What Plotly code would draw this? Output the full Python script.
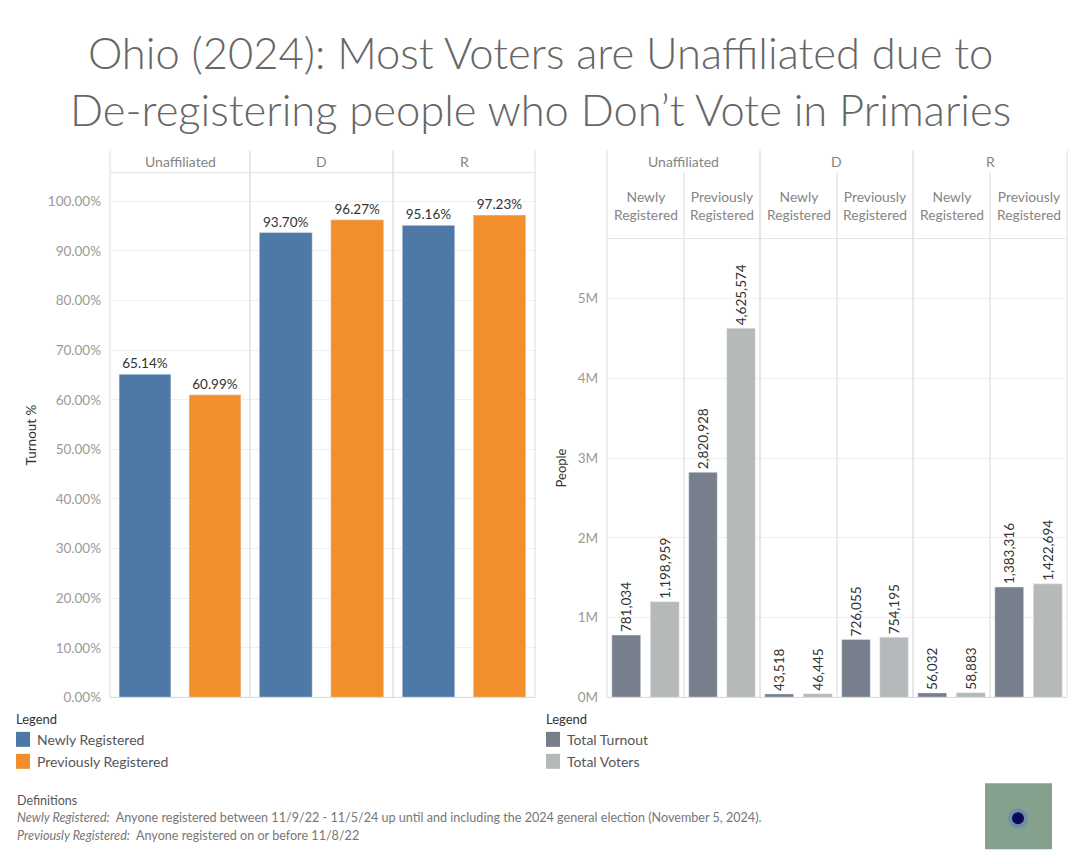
import plotly.graph_objects as go

# ---------------- data ----------------
parties = ["Unaffiliated", "D", "R"]
reg_groups = ["Newly Registered", "Previously Registered"]
turnout_pct_newly = [65.14, 93.70, 95.16]
turnout_pct_prev = [60.99, 96.27, 97.23]

measures = ["Total Turnout", "Total Voters"]
# order: (Unaffiliated, Newly), (Unaffiliated, Previously), (D, Newly), (D, Previously), (R, Newly), (R, Previously)
total_turnout = [781034, 2820928, 43518, 726055, 56032, 1383316]
total_voters = [1198959, 4625574, 46445, 754195, 58883, 1422694]

pct_ticks = [0, 10, 20, 30, 40, 50, 60, 70, 80, 90, 100]
pct_tick_labels = ["%.2f%%" % v for v in pct_ticks]
people_ticks = [0, 1e6, 2e6, 3e6, 4e6, 5e6]
people_tick_labels = ["0M", "1M", "2M", "3M", "4M", "5M"]

# ---------------- style ----------------
# page body has an 8px margin; the figure is sized so the whole page is 1080x864
OFF = 8
W, H = 1080 - 2 * OFF, 864 - 2 * OFF
VS = 0.991  # vertical scale observed in the captured page
FONT = "Lato"
BLUE, ORANGE = "#4e79a7", "#f28e2b"
DARK, LIGHT = "#767f8b", "#b5b9ba"
HDR = "#858585"


def px(x):
    return (x - OFF) / W


def py(y):
    yp = (y + 0.6) / VS
    return 1 - (yp - OFF) / H


fig = go.Figure()
layout_axes = {}

# left panel geometry (screen pixels)
left_edges = [110, 250, 393, 535]
left_top, left_bottom, hdr_top, hdr_bottom = 172, 697, 150, 172
lab_font = dict(size=13.5, color="#333333", family=FONT)
tick_font = dict(size=13.5, color="#999999", family=FONT)
for i, party in enumerate(parties):
    n = i + 1
    xa = "x" if n == 1 else "x%d" % n
    ya = "y" if n == 1 else "y%d" % n
    fig.add_trace(go.Bar(
        x=[reg_groups[0]], y=[turnout_pct_newly[i]], xaxis=xa, yaxis=ya,
        marker_color=BLUE, width=0.74, name=reg_groups[0], showlegend=False,
        text=["%.2f%%" % turnout_pct_newly[i]], textposition="outside",
        textfont=lab_font, cliponaxis=False, constraintext="none"))
    fig.add_trace(go.Bar(
        x=[reg_groups[1]], y=[turnout_pct_prev[i]], xaxis=xa, yaxis=ya,
        marker_color=ORANGE, width=0.74, name=reg_groups[1], showlegend=False,
        text=["%.2f%%" % turnout_pct_prev[i]], textposition="outside",
        textfont=lab_font, cliponaxis=False, constraintext="none"))
    xkey = "xaxis" if n == 1 else "xaxis%d" % n
    ykey = "yaxis" if n == 1 else "yaxis%d" % n
    layout_axes[xkey] = dict(domain=[px(left_edges[i]), px(left_edges[i + 1])], anchor=ya,
                             type="category", categoryarray=reg_groups, range=[-0.5, 1.5],
                             showticklabels=False, showgrid=False, zeroline=False,
                             showline=False, ticks="")
    layout_axes[ykey] = dict(domain=[py(left_bottom), py(left_top)], anchor=xa,
                             range=[0, 105.8], tickvals=pct_ticks, ticktext=pct_tick_labels,
                             showticklabels=(n == 1), showgrid=True, gridcolor="#efefef",
                             zeroline=False, showline=False, ticks="",
                             tickfont=tick_font, ticklabelstandoff=8,
                             title=dict(text="Turnout %", font=dict(size=13.5, color="#333333", family=FONT),
                                        standoff=8) if n == 1 else None)

# right panel geometry
right_edges = [607, 684, 760, 837, 913, 990, 1067]
r_top = 238
for j in range(6):
    n = j + 4
    xa, ya = "x%d" % n, "y%d" % n
    fig.add_trace(go.Bar(
        x=[measures[0]], y=[total_turnout[j]], xaxis=xa, yaxis=ya,
        marker_color=DARK, width=0.75, name=measures[0], showlegend=False,
        texttemplate="%{y:,}", textposition="outside", textangle=-90,
        textfont=lab_font, cliponaxis=False, constraintext="none"))
    fig.add_trace(go.Bar(
        x=[measures[1]], y=[total_voters[j]], xaxis=xa, yaxis=ya,
        marker_color=LIGHT, width=0.75, name=measures[1], showlegend=False,
        texttemplate="%{y:,}", textposition="outside", textangle=-90,
        textfont=lab_font, cliponaxis=False, constraintext="none"))
    layout_axes["xaxis%d" % n] = dict(domain=[px(right_edges[j]), px(right_edges[j + 1])], anchor=ya,
                                      type="category", categoryarray=measures, range=[-0.5, 1.5],
                                      showticklabels=False, showgrid=False, zeroline=False,
                                      showline=False, ticks="")
    layout_axes["yaxis%d" % n] = dict(domain=[py(left_bottom), py(r_top)], anchor=xa,
                                      range=[0, 5.75e6], tickvals=people_ticks, ticktext=people_tick_labels,
                                      showticklabels=(j == 0), showgrid=True, gridcolor="#efefef",
                                      zeroline=False, showline=False, ticks="",
                                      tickfont=tick_font, ticklabelstandoff=8,
                                      title=dict(text="People", font=dict(size=13, color="#333333", family=FONT),
                                                 standoff=8) if j == 0 else None)

shapes = []


def vline(x, y0, y1, color):
    shapes.append(dict(type="line", xref="paper", yref="paper", x0=px(x), x1=px(x),
                       y0=py(y0), y1=py(y1), line=dict(color=color, width=1)))


def hline(y, x0, x1, color):
    shapes.append(dict(type="line", xref="paper", yref="paper", x0=px(x0), x1=px(x1),
                       y0=py(y), y1=py(y), line=dict(color=color, width=1)))


# left panel frame
for i, e in enumerate(left_edges):
    vline(e, hdr_top, left_bottom, "#cfcfcf" if 0 < i < 3 else "#dedede")
hline(hdr_bottom, left_edges[0], left_edges[-1], "#e3e3e3")
hline(left_bottom, left_edges[0], left_edges[-1], "#d6d6d6")
# right panel frame
for k, e in enumerate(right_edges):
    if k % 2 == 0:
        vline(e, hdr_top, left_bottom, "#cfcfcf" if 0 < k < 6 else "#dedede")
    else:
        vline(e, hdr_bottom, left_bottom, "#d9d9d9")
hline(r_top, right_edges[0], right_edges[-1], "#e3e3e3")
hline(left_bottom, right_edges[0], right_edges[-1], "#d6d6d6")

annotations = []


def text(x, y, s, size=13, color=HDR, xanchor="center", yanchor="middle", weight=None):
    f = dict(size=size, color=color, family=FONT)
    if weight:
        f["weight"] = weight
    annotations.append(dict(x=px(x), y=py(y), xref="paper", yref="paper", text=s, showarrow=False,
                            xanchor=xanchor, yanchor=yanchor, font=f))


# title
text(540, 80, "Ohio (2024): Most Voters are Unaffiliated due to<br>De-registering people who Don\u2019t Vote in Primaries",
     size=43.5, color="#666666", weight=300)

# left headers
for i, party in enumerate(parties):
    text((left_edges[i] + left_edges[i + 1]) / 2, 161, party, size=14)
# right headers
for i, party in enumerate(parties):
    text((right_edges[2 * i] + right_edges[2 * i + 2]) / 2, 161, party, size=14)
for j in range(6):
    lab = reg_groups[j % 2].replace(" ", "<br>")
    text((right_edges[j] + right_edges[j + 1]) / 2, 205, lab, size=13.8)

# legends
for lx, items, colors in [(17, reg_groups, [BLUE, ORANGE]), (547, measures, [DARK, LIGHT])]:
    text(lx - 3, 719, "Legend", size=13, color="#333333", xanchor="left")
    for k, (lab, col) in enumerate(zip(items, colors)):
        yc = 739 + 22 * k
        shapes.append(dict(type="rect", xref="paper", yref="paper", x0=px(lx - 1), x1=px(lx + 13),
                           y0=py(yc + 7.5), y1=py(yc - 7.5), fillcolor=col, line=dict(width=0)))
        text(lx + 18, yc, lab, size=14, color="#555555", xanchor="left")

# definitions
text(15, 800, "Definitions", size=12.5, color="#555555", xanchor="left")
text(15, 817, "<i>Newly Registered:</i>  Anyone registered between 11/9/22 - 11/5/24 up until and including the 2024 general election (November 5, 2024).",
     size=12.6, color="#777777", xanchor="left")
text(15, 835, "<i>Previously Registered:</i>  Anyone registered on or before 11/8/22",
     size=12.6, color="#777777", xanchor="left")

# logo decoration
shapes.append(dict(type="rect", xref="paper", yref="paper", x0=px(985), x1=px(1052), y0=py(849), y1=py(783),
                   fillcolor="#86a08e", line=dict(width=0)))
shapes.append(dict(type="circle", xref="paper", yref="paper", x0=px(1008), x1=px(1028), y0=py(828), y1=py(808),
                   fillcolor="#6f8fa8", line=dict(width=0)))
shapes.append(dict(type="circle", xref="paper", yref="paper", x0=px(1012), x1=px(1024), y0=py(824), y1=py(812),
                   fillcolor="#0a0a5a", line=dict(width=0)))

fig.update_layout(
    width=W, height=H, margin=dict(l=0, r=0, t=0, b=0),
    paper_bgcolor="white", plot_bgcolor="white",
    font=dict(family=FONT, color="#333333"),
    showlegend=False, barmode="group",
    shapes=shapes, annotations=annotations,
    **layout_axes,
)

fig.write_html("out.html")
